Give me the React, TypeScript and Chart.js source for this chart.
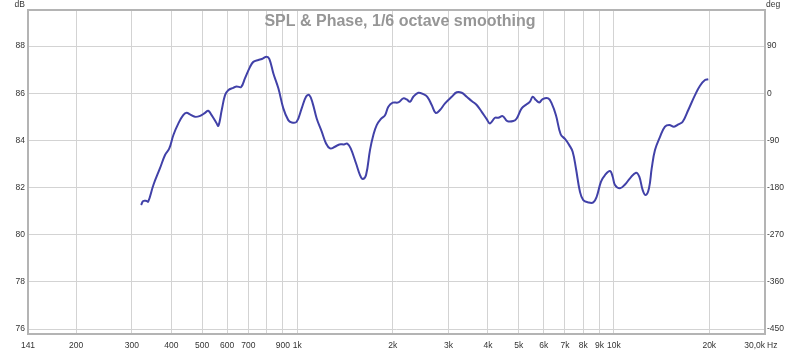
import React, { useEffect, useRef } from "react";
import { Chart, registerables } from "chart.js";

Chart.register(...registerables);

const titleText = "SPL & Phase, 1/6 octave smoothing";

const freqHz = [
  321, 326, 334, 338, 351, 368, 382, 394, 406, 421, 436, 447, 458, 475, 493, 511, 523, 536, 554, 563,
  577, 591, 605, 628, 643, 664, 683, 709, 726, 753, 772, 800, 816, 840, 871, 903, 936, 960, 995, 1032,
  1065, 1091, 1118, 1151, 1194, 1232, 1268, 1315, 1357, 1404, 1438, 1474, 1532, 1577, 1608, 1648, 1696, 1738, 1781, 1834,
  1892, 1938, 2001, 2084, 2161, 2215, 2269, 2324, 2410, 2499, 2573, 2657, 2735, 2822, 2927, 3073, 3187, 3305, 3427, 3554,
  3686, 3822, 3964, 4060, 4210, 4312, 4452, 4604, 4809, 4929, 5111, 5300, 5429, 5537, 5671, 5809, 5955, 6202, 6357, 6559,
  6787, 7003, 7225, 7406, 7586, 7810, 8000, 8297, 8604, 8819, 9102, 9371, 9717, 9909, 10077, 10450, 10837, 11238, 11740, 12025,
  12326, 12598, 12903, 13159, 13478, 13977, 14494, 14954, 15474, 15966, 16486, 17172, 18030, 18699, 19390, 19861,
];

const splDb = [
  81.26, 81.43, 81.43, 81.40, 82.11, 82.81, 83.38, 83.66, 84.23, 84.72, 85.07, 85.17, 85.10, 85.00, 85.04, 85.17, 85.26, 85.07, 84.76, 84.62,
  85.29, 85.92, 86.13, 86.23, 86.29, 86.26, 86.63, 87.12, 87.33, 87.41, 87.45, 87.55, 87.45, 86.84, 86.21, 85.36, 84.86, 84.76, 84.79, 85.36,
  85.85, 85.92, 85.57, 84.93, 84.37, 83.87, 83.66, 83.73, 83.83, 83.83, 83.86, 83.66, 83.03, 82.53, 82.36, 82.53, 83.59, 84.23, 84.65, 84.90,
  85.07, 85.43, 85.60, 85.61, 85.78, 85.74, 85.64, 85.85, 86.02, 85.96, 85.85, 85.50, 85.17, 85.29, 85.57, 85.85, 86.04, 86.02, 85.85, 85.67,
  85.50, 85.21, 84.90, 84.72, 84.96, 84.96, 85.03, 84.82, 84.82, 84.93, 85.36, 85.53, 85.64, 85.85, 85.71, 85.61, 85.75, 85.78, 85.57, 85.07,
  84.26, 84.06, 83.80, 83.52, 82.81, 81.82, 81.47, 81.37, 81.37, 81.61, 82.25, 82.53, 82.70, 82.46, 82.11, 81.97, 82.13, 82.39, 82.63, 82.46,
  81.89, 81.68, 81.97, 82.81, 83.59, 84.15, 84.58, 84.65, 84.58, 84.68, 84.79, 85.29, 85.92, 86.32, 86.56, 86.59,
];

const xTickValues = [141, 200, 300, 400, 500, 600, 700, 800, 900, 1000, 2000, 3000, 4000, 5000, 6000, 7000, 8000, 9000, 10000, 20000, 30000];
const xTickLabels = ["141", "200", "300", "400", "500", "600", "700", "", "900", "1k", "2k", "3k", "4k", "5k", "6k", "7k", "8k", "9k", "10k", "20k", ""];
const lastXLabel = "30,0k";
const xUnit = "Hz";
const dbTicks = [76, 78, 80, 82, 84, 86, 88];
const degTicks = [-450, -360, -270, -180, -90, 0, 90];
const dbMin = 75.79;
const dbMax = 89.53;
const degMin = (dbMin - 86) * 45;
const degMax = (dbMax - 86) * 45;

const FONT = '"Liberation Sans", Arial, sans-serif';

const overlay = {
  id: "overlay",
  afterDraw(chart: any) {
    const { ctx, chartArea: a, scales } = chart;
    ctx.save();
    ctx.strokeStyle = "#b4b4b4";
    ctx.lineWidth = 2;
    ctx.strokeRect(a.left, a.top, a.right - a.left, a.bottom - a.top);

    ctx.font = `bold 16px ${FONT}`;
    ctx.fillStyle = "#969696";
    ctx.textAlign = "center";
    ctx.textBaseline = "alphabetic";
    ctx.fillText(titleText, chart.width / 2, a.top + 16);

    ctx.font = `8.5px ${FONT}`;
    ctx.fillStyle = "#333";
    ctx.textAlign = "right";
    ctx.fillText("dB", a.left - 3, 7);
    ctx.textAlign = "left";
    ctx.fillText("deg", a.right + 1, 7);

    const xs = scales.x;
    const px = xs.getPixelForValue(xTickValues[xTickValues.length - 1]);
    ctx.textBaseline = "middle";
    ctx.textAlign = "right";
    ctx.fillText(lastXLabel, px, a.bottom + 11.5);
    ctx.textAlign = "left";
    ctx.fillText(xUnit, px + 2, a.bottom + 11.5);
    ctx.restore();
  },
};

export default function App() {
  const ref = useRef<HTMLCanvasElement>(null);
  useEffect(() => {
    document.body.style.margin = "0";
    const points = freqHz.map((f, i) => ({ x: f, y: splDb[i] }));
    const gridColor = "#d3d3d3";
    const tickFont = { family: FONT, size: 8.5 };
    const chart = new Chart(ref.current!, {
      type: "line",
      data: {
        datasets: [
          {
            data: points,
            borderColor: "#4141a8",
            borderWidth: 2,
            pointRadius: 0,
            tension: 0.4,
            fill: false,
            yAxisID: "y",
          },
        ],
      },
      options: {
        animation: false,
        responsive: true,
        maintainAspectRatio: false,
        layout: { padding: { top: 10, left: 0, right: 0, bottom: 0 } },
        plugins: { legend: { display: false }, tooltip: { enabled: false }, title: { display: false } },
        scales: {
          x: {
            type: "logarithmic",
            min: 141,
            max: 30000,
            afterBuildTicks: (s: any) => {
              s.ticks = xTickValues.map((v) => ({ value: v }));
            },
            afterFit: (s: any) => {
              s.height = 18;
            },
            ticks: {
              autoSkip: false,
              maxRotation: 0,
              padding: 7,
              color: "#333",
              font: tickFont,
              callback: (_v: any, i: number) => xTickLabels[i],
            },
            grid: { color: gridColor, drawTicks: false },
            border: { display: false },
          },
          y: {
            type: "linear",
            position: "left",
            min: dbMin,
            max: dbMax,
            afterBuildTicks: (s: any) => {
              s.ticks = dbTicks.map((v) => ({ value: v }));
            },
            afterFit: (s: any) => {
              s.width = 28;
            },
            ticks: { padding: 3, color: "#333", font: tickFont, callback: (v: any) => String(v) },
            grid: { color: gridColor, drawTicks: false },
            border: { display: false },
          },
          y2: {
            type: "linear",
            position: "right",
            min: degMin,
            max: degMax,
            afterBuildTicks: (s: any) => {
              s.ticks = degTicks.map((v) => ({ value: v }));
            },
            afterFit: (s: any) => {
              s.width = 35;
            },
            ticks: { padding: 2, color: "#333", font: tickFont, callback: (v: any) => String(v) },
            grid: { drawOnChartArea: false, drawTicks: false },
            border: { display: false },
          },
        },
      },
      plugins: [overlay],
    });
    return () => chart.destroy();
  }, []);
  return (
    <div style={{ position: "relative", width: 800, height: 352, background: "#fff" }}>
      <canvas ref={ref} />
    </div>
  );
}
